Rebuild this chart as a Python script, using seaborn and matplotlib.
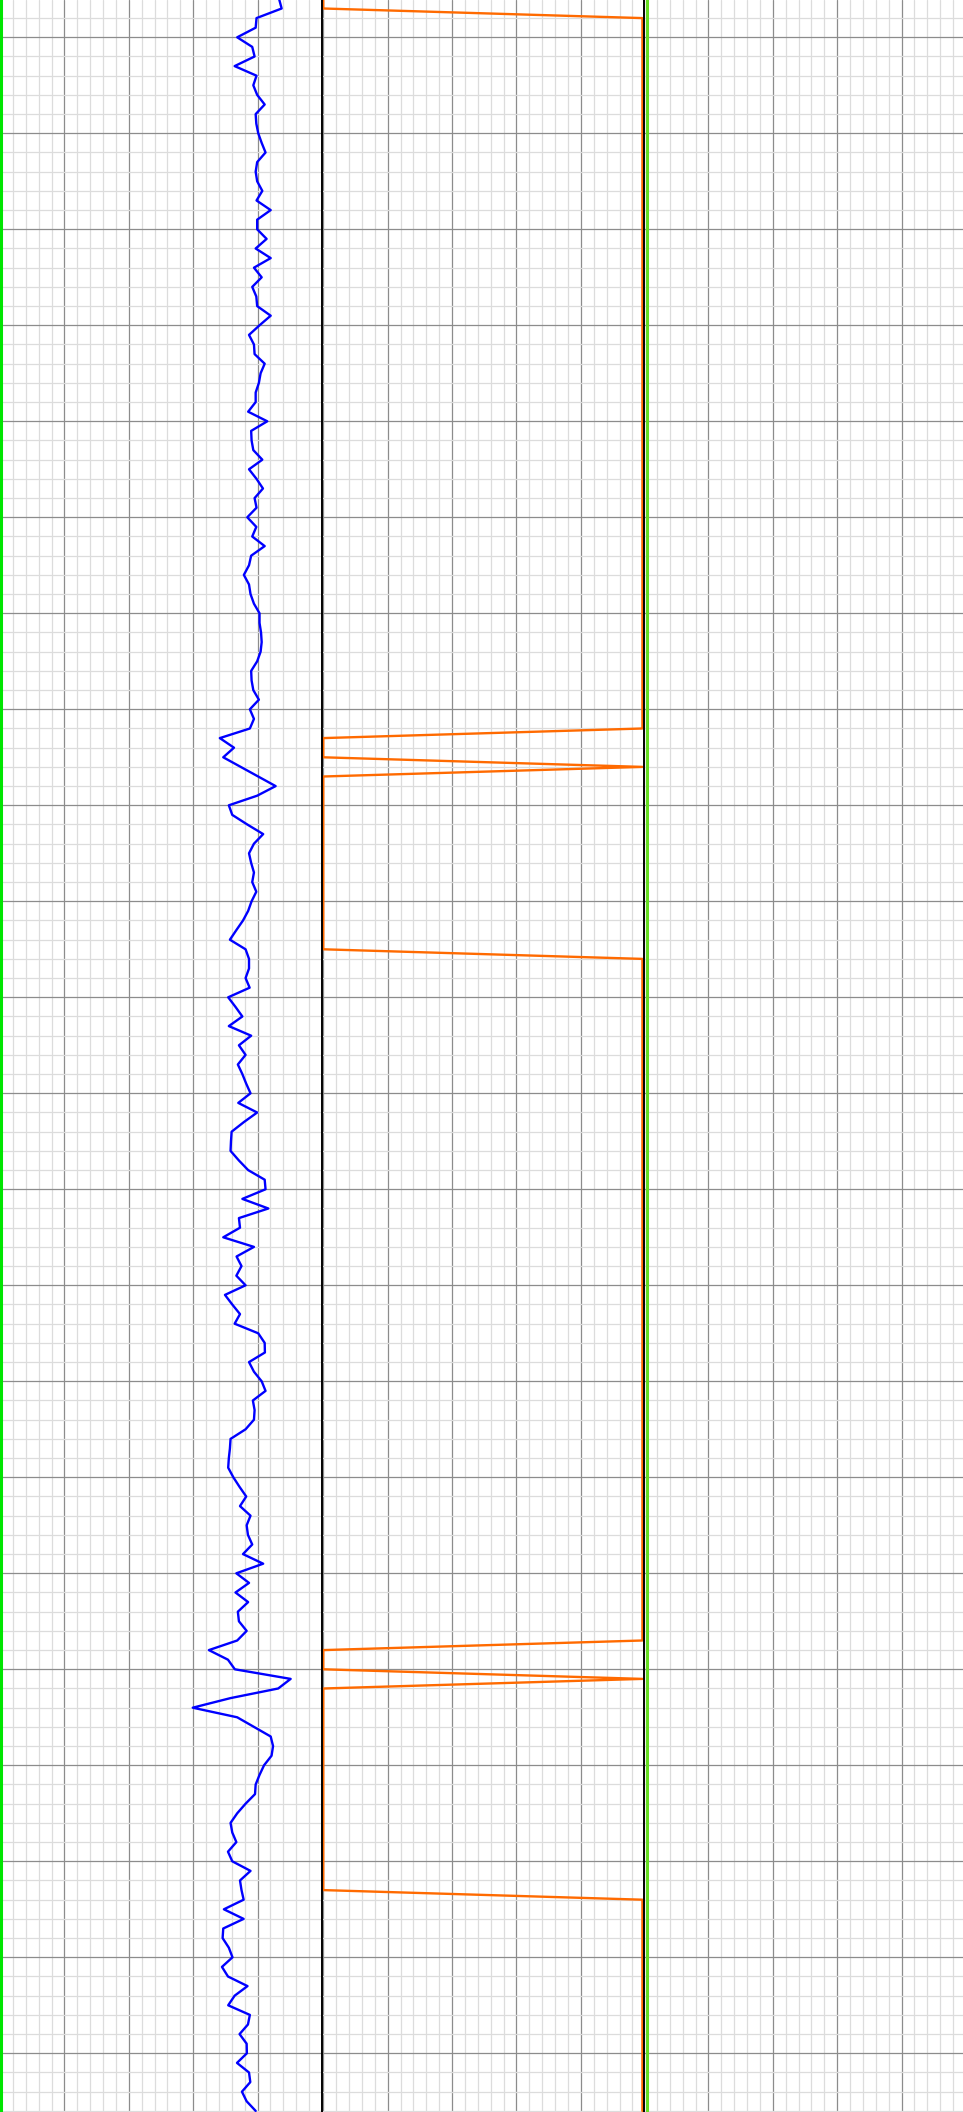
import numpy as np
import pandas as pd
import matplotlib
matplotlib.use("Agg")
import matplotlib.pyplot as plt
from matplotlib.ticker import MultipleLocator
import seaborn as sns

# ---------------- data ----------------
depth_start = 996
depth_end = 1216
depth = np.arange(depth_start, depth_end + 1, 1.0)

gr = [
    130.0, 131.2, 119.5, 119.1,
    110.5, 117.5, 118.6, 109.3, 119.5, 118.0, 119.8, 123.3, 119.1, 119.4,
    120.3, 121.9, 123.7, 119.8, 119.1, 119.8, 122.2, 119.5, 126.1, 119.8,
    119.8, 124.2, 119.1, 126.1, 118.3, 121.9, 117.5, 119.4, 119.8, 126.1,
    120.9, 116.0, 118.3, 118.6, 123.3, 121.4, 120.6, 119.1, 119.1, 115.6,
    124.5, 117.0, 117.2, 118.0, 122.2, 116.0, 119.5, 122.5, 118.6, 119.5,
    115.2, 119.4, 117.5, 123.3, 117.0, 116.0, 113.6, 116.0, 116.7, 118.3,
    120.9, 120.9, 121.6, 121.9, 121.4, 119.8, 117.0, 117.2, 118.0, 120.6,
    116.4, 118.3, 116.4, 102.4, 109.0, 104.0, 112.1, 120.3, 128.4, 119.8,
    106.6, 108.2, 115.2, 122.6, 118.3, 116.0, 117.0, 118.3, 117.5, 119.4,
    117.2, 115.6, 113.2, 110.1, 107.1, 114.4, 116.0, 116.0, 114.4, 116.3,
    106.3, 109.7, 112.9, 106.6, 117.0, 111.3, 114.4, 110.8, 112.9, 114.7,
    116.7, 111.0, 119.8, 113.6, 107.9, 107.6, 107.4, 111.3, 115.6, 123.3,
    123.7, 112.9, 125.0, 111.3, 111.8, 104.0, 118.3, 110.2, 112.5, 110.1,
    114.4, 104.8, 108.2, 111.8, 109.3, 120.3, 123.3, 123.4, 116.0, 118.3,
    121.9, 123.7, 117.8, 118.6, 118.3, 114.4, 107.4, 107.1, 106.6, 106.3,
    108.7, 111.6, 114.7, 111.8, 116.7, 114.9, 115.5, 117.5, 113.2, 122.6,
    110.1, 116.0, 109.7, 115.6, 110.8, 111.3, 114.9, 110.5, 97.3, 106.2,
    109.4, 135.4, 129.6, 107.4, 89.8, 110.5, 118.3, 126.1, 127.2, 126.5,
    123.0, 120.9, 119.1, 118.8, 114.4, 110.5, 107.4, 108.2, 110.1, 106.2,
    108.2, 116.7, 111.8, 112.5, 113.5, 104.3, 113.5, 104.0, 103.7, 106.6,
    108.3, 103.4, 106.2, 115.3, 109.3, 106.3, 116.4, 115.5, 111.6, 114.9,
    115.0, 110.4, 116.0, 116.6, 112.7, 114.9, 119.1,
]

flag = (
    [0, 0] + [1] * 75 + [0, 0, 0] + [1] + [0] * 19 + [1] * 72
    + [0, 0, 0] + [1] + [0] * 22 + [1] * 23
)

track1_base = [0.55] * len(depth)
track3_curve = [0.05] * len(depth)

gr_range = (0, 150)
flag_range = (-0.004, 1.005)
track3_range = (0, 5)

df = pd.DataFrame({"depth": depth, "gr": gr, "flag": flag,
                   "base": track1_base, "c3": track3_curve})

# ---------------- figure ----------------
sns.set_style("white")
W, H = 963, 2112
fig = plt.figure(figsize=(W / 100, H / 100), dpi=100)
tw = 322
ax1 = fig.add_axes([0, 0, tw / W, 1])
ax2 = fig.add_axes([tw / W, 0, tw / W, 1])
ax3 = fig.add_axes([2 * tw / W, 0, tw / W, 1])

def style(ax, xr):
    ax.set_xlim(*xr)
    ax.set_ylim(1216.115, 996.115)
    span = xr[1] - xr[0]
    ax.xaxis.set_major_locator(MultipleLocator(span / 5))
    ax.xaxis.set_minor_locator(MultipleLocator(span / 25))
    ax.yaxis.set_major_locator(MultipleLocator(10))
    ax.yaxis.set_minor_locator(MultipleLocator(2))
    ax.grid(which="minor", color="#dcdcdc", lw=0.9, zorder=0)
    ax.grid(which="major", color="#8c8c8c", lw=0.9, zorder=0)
    ax.set_axisbelow(True)
    ax.tick_params(which="both", length=0, labelleft=False, labelbottom=False)
    ax.set_xlabel("")
    ax.set_ylabel("")
    for s in ax.spines.values():
        s.set_visible(False)

# Track 1
sns.lineplot(data=df, x="base", y="depth", sort=False, estimator=None,
             ax=ax1, color="#00e600", lw=2.2)
sns.lineplot(data=df, x="gr", y="depth", sort=False, estimator=None,
             ax=ax1, color="#0000ff", lw=1.7)
style(ax1, gr_range)

# Track 2
sns.lineplot(data=df, x="flag", y="depth", sort=False, estimator=None,
             ax=ax2, color="#ff6a00", lw=1.7)
style(ax2, flag_range)

# Track 3
sns.lineplot(data=df, x="c3", y="depth", sort=False, estimator=None,
             ax=ax3, color="#66dd22", lw=2.2)
style(ax3, track3_range)

for ax in (ax2, ax3):
    ax.spines["left"].set_visible(True)
    ax.spines["left"].set_color("black")
    ax.spines["left"].set_linewidth(1.4)
    ax.spines["left"].set_zorder(5)

fig.savefig("out.png", dpi=100)
